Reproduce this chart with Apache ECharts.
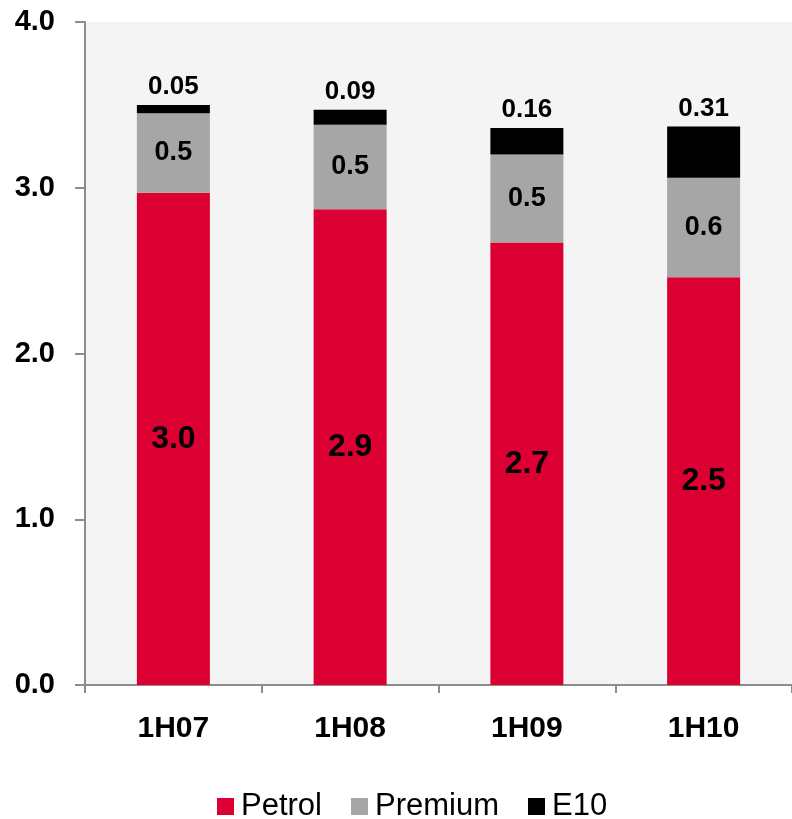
<!DOCTYPE html>
<html>
<head>
<meta charset="utf-8">
<script src="https://cdn.jsdelivr.net/npm/echarts@6/dist/echarts.min.js"></script>
<style>
  html, body { margin: 0; padding: 0; background: #fff; }
  #chart { width: 792px; height: 819px; }
</style>
</head>
<body>
<div id="chart"></div>
<script>
// Half-year periods on the category axis
const periods = ['1H07', '1H08', '1H09', '1H10'];

// Stacked volumes per fuel grade
const petrol = [2.97, 2.87, 2.67, 2.46];
const premium = [0.48, 0.51, 0.53, 0.60];
const e10 = [0.05, 0.09, 0.16, 0.31];

// Value-axis range and step
const yMin = 0;
const yMax = 4;
const yStep = 1;

const FONT = '"Liberation Sans", Arial, sans-serif';

const chart = echarts.init(document.getElementById('chart'));

function barSeries(name, data, color, label) {
  return {
    name: name,
    type: 'bar',
    stack: 'total',
    data: data,
    barWidth: 73,
    itemStyle: { color: color },
    label: Object.assign({
      show: true,
      color: '#000',
      fontFamily: FONT,
      fontWeight: 'bold'
    }, label)
  };
}

chart.setOption({
  animation: false,
  textStyle: { fontFamily: FONT },
  grid: {
    left: 85,
    right: -9,
    top: 22,
    bottom: 134,
    show: true,
    backgroundColor: '#F4F4F4',
    borderWidth: 0
  },
  legend: {
    data: ['Petrol', 'Premium', 'E10'],
    left: 212,
    bottom: -8,
    itemWidth: 17,
    itemHeight: 17,
    itemGap: 29,
    icon: 'rect',
    textStyle: { fontSize: 31, color: '#000', fontFamily: FONT, padding: [0, 0, 0, 2] }
  },
  xAxis: {
    type: 'category',
    data: periods,
    axisLine: { lineStyle: { color: '#8C8C8C', width: 2 } },
    axisTick: { show: true, length: 8, lineStyle: { color: '#8C8C8C', width: 2 } },
    axisLabel: {
      margin: 29,
      fontSize: 30,
      fontWeight: 'bold',
      color: '#000',
      fontFamily: FONT
    }
  },
  yAxis: {
    type: 'value',
    min: yMin,
    max: yMax,
    interval: yStep,
    splitLine: { show: false },
    axisLine: { show: true, lineStyle: { color: '#8C8C8C', width: 2 } },
    axisTick: { show: true, length: 10, lineStyle: { color: '#8C8C8C', width: 2 } },
    axisLabel: {
      margin: 30,
      fontSize: 29,
      fontWeight: 'bold',
      color: '#000',
      fontFamily: FONT,
      formatter: v => v.toFixed(1)
    }
  },
  series: [
    barSeries('Petrol', petrol, '#DC0032', {
      position: 'inside',
      fontSize: 32,
      formatter: p => p.value.toFixed(1)
    }),
    barSeries('Premium', premium, '#A6A6A6', {
      position: 'inside',
      fontSize: 27,
      formatter: p => p.value.toFixed(1)
    }),
    barSeries('E10', e10, '#000000', {
      position: 'top',
      distance: 5,
      fontSize: 26,
      formatter: p => p.value.toFixed(2)
    })
  ]
});
</script>
</body>
</html>
